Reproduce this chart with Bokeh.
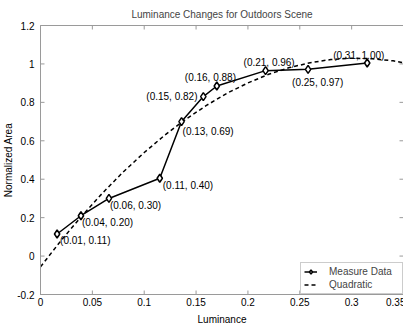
import math
from bokeh.plotting import figure
from bokeh.models import Range1d, FixedTicker, Legend, LegendItem, ColumnDataSource
from bokeh.core.properties import value
from bokeh.embed import file_html
from bokeh.resources import INLINE

# Measured data
lum = [0.016, 0.039, 0.066, 0.115, 0.136, 0.157, 0.170, 0.217, 0.258, 0.315]
area = [0.115, 0.21, 0.30, 0.405, 0.70, 0.83, 0.885, 0.965, 0.972, 1.005]
point_labels = ["(0.01, 0.11)", "(0.04, 0.20)", "(0.06, 0.30)", "(0.11, 0.40)", "(0.13, 0.69)",
                "(0.15, 0.82)", "(0.16, 0.88)", "(0.21, 0.96)", "(0.25, 0.97)", "(0.31, 1.00)"]

# Quadratic fit curve
quad_x = [0.0, 0.02, 0.04, 0.06, 0.08, 0.10, 0.12, 0.14, 0.16, 0.18, 0.20, 0.22, 0.24,
          0.26, 0.28, 0.30, 0.32, 0.34, 0.35]
quad_y = [-0.056, 0.082, 0.210, 0.329, 0.439, 0.539, 0.630, 0.712, 0.784, 0.848, 0.901,
          0.946, 0.981, 1.006, 1.023, 1.030, 1.027, 1.016, 1.006]

x_ticks = [0, 0.05, 0.1, 0.15, 0.2, 0.25, 0.3, 0.35]
x_tick_labels = ["0", "0.05", "0.1", "0.15", "0.2", "0.25", "0.3", "0.35"]
y_ticks = [-0.2, 0, 0.2, 0.4, 0.6, 0.8, 1.0, 1.2]
y_tick_labels = ["-0.2", "0", "0.2", "0.4", "0.6", "0.8", "1", "1.2"]

# label placement styles (screen px)
lab_dx = [3, 1, 1, 3, 1, -57, -32, -22, -16, -34]
lab_dy = [7, 7, 7, 7, 10, 0, -9, -8, 13, -7]

FONT = "Liberation Sans"
AX = "#9a9a9a"

p = figure(output_backend="svg", toolbar_location=None,
           width=405, height=327,
           x_range=Range1d(x_ticks[0], x_ticks[-1]), y_range=Range1d(y_ticks[0], y_ticks[-1]),
           min_border_left=37, min_border_right=2, min_border_top=20, min_border_bottom=23,
           title="Luminance Changes for Outdoors Scene")
p.title.align = "center"
p.title.text_font = FONT
p.title.text_font_size = "10px"
p.title.text_font_style = "normal"
p.title.standoff = 12
p.grid.visible = False
p.outline_line_color = AX
p.background_fill_color = "white"
p.border_fill_color = "white"

def style_axis(ax):
    ax.axis_line_color = AX
    ax.major_tick_line_color = None
    ax.major_tick_in = 0
    ax.major_tick_out = 0
    ax.minor_tick_line_color = None
    ax.major_label_text_font = FONT
    ax.major_label_text_font_size = "10px"
    ax.major_label_text_color = "black"
    ax.axis_label_text_font = FONT
    ax.axis_label_text_font_size = "10px"
    ax.axis_label_text_font_style = "normal"
    ax.axis_label_text_color = "black"

xa = p.xaxis[0]
ya = p.yaxis[0]
style_axis(xa)
style_axis(ya)
xa.ticker = FixedTicker(ticks=x_ticks)
ya.ticker = FixedTicker(ticks=y_ticks)
xa.major_label_overrides = {t: l for t, l in zip(x_ticks, x_tick_labels)}
ya.major_label_overrides = {t: l for t, l in zip(y_ticks, y_tick_labels)}
xa.axis_label = "Luminance"
ya.axis_label = "Normalized Area"
xa.major_label_standoff = 3
xa.axis_label_standoff = 5
ya.major_label_standoff = 6
ya.axis_label_standoff = 0

# inward tick marks on all four edges of the box (half of each mark is clipped)
nx, ny = len(x_ticks), len(y_ticks)
p.scatter(x_ticks * 2, [y_ticks[-1]] * nx + [y_ticks[0]] * nx, marker="dash",
          angle=math.pi / 2, size=8, line_color=AX, line_width=1)
p.scatter([x_ticks[-1]] * ny + [x_ticks[0]] * ny, y_ticks * 2, marker="dash",
          size=8, line_color=AX, line_width=1)

qr = p.line(quad_x, quad_y, line_color="black", line_width=1.5, line_dash="4 3")
src = ColumnDataSource(dict(x=lum, y=area, t=point_labels, dx=lab_dx, dy=lab_dy))
mr_line = p.line("x", "y", source=src, line_color="black", line_width=1.5)
mr_pts = p.scatter("x", "y", source=src, marker="diamond", size=8, line_color="black",
                   line_width=1.5, fill_color="white")
p.text("x", "y", text="t", source=src, x_offset="dx", y_offset="dy",
       text_align="left", text_baseline="middle",
       text_font=value(FONT), text_font_size="10px", text_color="black")

legend = Legend(items=[LegendItem(label="Measure Data", renderers=[mr_line, mr_pts]),
                       LegendItem(label="Quadratic", renderers=[qr])],
                location="bottom_right", margin=0, padding=3, spacing=2,
                glyph_width=13, glyph_height=11, label_height=11, label_width=70,
                label_standoff=12, label_text_font=FONT, label_text_font_size="10px",
                border_line_color=AX, background_fill_color="white", background_fill_alpha=1)
p.add_layout(legend)

open("out.html", "w").write(file_html(p, INLINE))
